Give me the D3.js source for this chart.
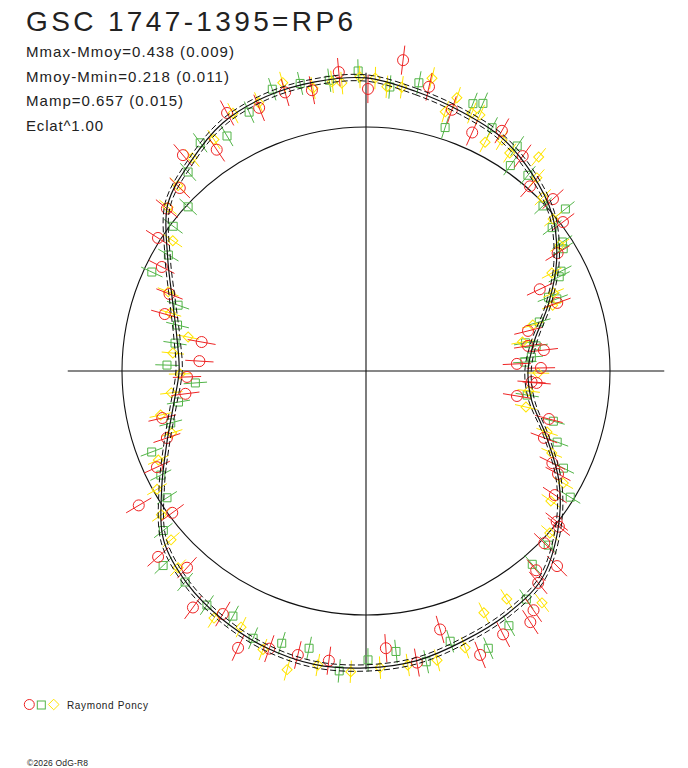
<!DOCTYPE html>
<html><head><meta charset="utf-8">
<script src="https://cdn.jsdelivr.net/npm/d3@7"></script>
<style>body{margin:0;background:#fff} svg{display:block}</style>
</head><body>
<svg id="chart" width="688" height="768"></svg>
<script>
// ---------- data ----------
const title = "GSC 1747-1395=RP6";
const statLines = ["Mmax-Mmoy=0.438 (0.009)", "Mmoy-Mmin=0.218 (0.011)", "Mamp=0.657 (0.015)", "Eclat^1.00"];
const mMaxMoy = 0.438;
const mMoyMin = 0.218;
const fitSigma = 0.013;
const observer = "Raymond Poncy";
const copyright = "\u00a92026 OdG-R8";

// fitted curve: rotational phase (deg) and relative flux
const curvePhase = [0,10,20,30,40,50,60,70,80,90,100,110,120,130,140,150,160,170,180,190,200,210,220,230,240,250,260,270,280,290,300,310,320,330,340,350];
const curveFlux  = [1.201,1.164,1.133,1.107,1.057,0.996,0.902,0.795,0.700,0.664,0.689,0.787,0.914,1.025,1.117,1.152,1.176,1.205,1.217,1.221,1.205,1.176,1.139,1.082,0.967,0.869,0.801,0.766,0.787,0.844,0.939,1.061,1.119,1.174,1.197,1.203];

// observations: [phase deg, relative flux, error]
const redPts = [
[343.8,1.189,0.058],[349.1,1.172,0.058],[354.8,1.230,0.058],[0.4,1.156,0.058],[6.8,1.283,0.060],[12.5,1.193,0.058],
[18.2,1.127,0.058],[24.0,1.070,0.058],[29.5,1.131,0.058],[36.1,1.090,0.058],[41.6,1.012,0.058],[47.4,1.041,0.058],
[52.9,1.012,0.058],[58.4,0.922,0.058],[64.8,0.787,0.058],[70.4,0.832,0.058],[76.1,0.684,0.058],[81.2,0.672,0.058],
[83.3,0.734,0.058],[87.3,0.619,0.058],[89.0,0.717,0.058],[93.8,0.680,0.058],[94.0,0.701,0.058],[99.4,0.627,0.058],
[104.7,0.775,0.058],[110.6,0.779,0.058],[116.3,0.852,0.058],[118.2,0.893,0.058],[123.3,0.926,0.058],[128.3,0.996,0.058],
[128.9,1.016,0.058],[134.0,1.016,0.058],[135.6,1.119,0.058],[139.5,1.074,0.058],[140.9,1.119,0.058],[145.0,1.197,0.058],
[146.8,1.230,0.058],[152.5,1.217,0.058],[158.1,1.254,0.058],[164.0,1.102,0.058],[170.1,1.213,0.058],[175.9,1.139,0.058],
[187.3,1.197,0.058],[193.5,1.197,0.058],[199.2,1.205,0.058],[204.8,1.250,0.058],[210.5,1.156,0.058],[216.2,1.201,0.058],
[222.3,1.090,0.058],[228.2,1.143,0.058],[233.8,0.984,0.058],[239.4,1.082,0.060],[245.3,0.943,0.058],[251.4,0.861,0.058],
[257.0,0.857,0.058],[262.8,0.746,0.058],[268.1,0.734,0.058],[273.4,0.684,0.058],[280.0,0.684,0.058],[285.8,0.857,0.058],
[291.4,0.865,0.058],[297.0,0.939,0.058],[302.6,1.012,0.058],[309.2,1.053,0.058],[314.5,1.070,0.058],[319.7,1.160,0.058],
[326.0,1.094,0.058],[331.7,1.201,0.058],[337.9,1.164,0.058]
];
const greenPts = [
[347.1,1.209,0.048],[352.8,1.201,0.048],[358.5,1.230,0.048],[4.8,1.168,0.048],[10.4,1.201,0.048],[18.0,1.049,0.048],
[21.8,1.180,0.048],[23.6,1.197,0.048],[27.4,1.123,0.048],[33.9,1.111,0.048],[35.1,1.029,0.048],[39.6,1.041,0.048],
[47.0,0.992,0.048],[50.9,1.053,0.048],[52.4,0.963,0.048],[56.7,0.963,0.048],[58.2,0.951,0.048],[62.9,0.898,0.048],
[64.0,0.881,0.048],[68.0,0.807,0.048],[69.3,0.836,0.048],[74.2,0.738,0.048],[80.0,0.664,0.048],[81.6,0.705,0.048],
[85.2,0.680,0.048],[86.8,0.652,0.048],[98.5,0.668,0.048],[105.0,0.795,0.048],[110.4,0.836,0.048],[116.2,0.902,0.048],
[121.7,0.984,0.048],[133.7,1.033,0.048],[139.3,1.045,0.048],[144.9,1.143,0.048],[150.7,1.197,0.048],[156.2,1.242,0.048],
[162.7,1.160,0.048],[168.3,1.217,0.048],[173.9,1.156,0.048],[179.6,1.184,0.048],[185.1,1.234,0.048],[191.6,1.160,0.048],
[197.2,1.168,0.048],[202.9,1.189,0.048],[208.5,1.143,0.048],[214.2,1.160,0.048],[220.6,1.139,0.048],[226.2,1.152,0.048],
[231.8,1.057,0.048],[237.5,0.967,0.048],[243.1,0.943,0.048],[249.3,0.939,0.048],[255.1,0.828,0.048],[260.6,0.779,0.048],
[266.0,0.701,0.048],[271.7,0.816,0.048],[278.3,0.791,0.048],[283.7,0.795,0.048],[289.3,0.816,0.048],[294.8,0.967,0.048],
[300.4,0.939,0.048],[306.9,0.988,0.048],[312.7,0.992,0.048],[318.2,1.094,0.048],[324.0,1.156,0.048],[329.4,1.119,0.048],
[335.7,1.164,0.048],[341.6,1.217,0.048]
];
const yellowPts = [
[343.9,1.230,0.046],[349.4,1.180,0.046],[353.3,1.193,0.046],[355.2,1.184,0.046],[358.8,1.205,0.046],[1.8,1.201,0.046],
[4.2,1.168,0.046],[7.2,1.172,0.046],[12.7,1.230,0.046],[17.0,1.111,0.046],[18.4,1.180,0.046],[22.3,1.143,0.046],
[24.0,1.148,0.046],[27.5,1.057,0.046],[30.5,1.098,0.046],[33.4,1.070,0.046],[38.9,1.127,0.046],[41.5,1.057,0.046],
[45.5,1.016,0.046],[50.9,0.988,0.046],[57.0,0.947,0.046],[62.2,0.861,0.046],[67.4,0.832,0.046],[70.6,0.811,0.046],
[74.6,0.709,0.046],[79.5,0.652,0.046],[90.7,0.705,0.046],[97.0,0.672,0.046],[102.7,0.672,0.046],[108.6,0.783,0.046],
[113.8,0.832,0.046],[119.6,0.930,0.046],[125.1,0.926,0.046],[131.4,1.004,0.046],[142.8,1.193,0.046],[148.3,1.098,0.046],
[154.0,1.102,0.046],[160.3,1.205,0.046],[166.2,1.221,0.046],[171.9,1.217,0.046],[177.3,1.217,0.046],[182.9,1.234,0.046],
[189.3,1.221,0.046],[194.8,1.266,0.046],[200.3,1.217,0.046],[206.0,1.168,0.046],[211.6,1.189,0.046],[223.7,1.115,0.046],
[229.1,1.057,0.046],[234.9,1.025,0.046],[240.5,0.984,0.046],[246.8,0.926,0.046],[252.3,0.836,0.046],[257.9,0.861,0.046],
[263.6,0.803,0.046],[269.1,0.762,0.046],[275.3,0.795,0.046],[280.8,0.742,0.046],[286.5,0.836,0.046],[291.8,0.873,0.046],
[304.0,0.955,0.046],[309.6,1.053,0.046],[314.6,1.082,0.046],[320.8,1.127,0.046],[326.7,1.135,0.046],[332.7,1.189,0.046],
[338.2,1.184,0.046]
];

// ---------- layout ----------
const svg = d3.select("#chart");
const cx = 366, cy = 371;
const rScale = d3.scaleLinear().domain([0, 1]).range([0, 244]);
const aScale = d3.scaleLinear().domain([0, 360]).range([0, 2 * Math.PI]);
const fluxMax = Math.pow(10, 0.4 * mMoyMin);
const axisR = rScale(fluxMax);
const font = "'Liberation Sans', Arial, sans-serif";
const colors = { red: "#ee2424", green: "#52b447", yellow: "#ffe400" };

const g = svg.append("g").attr("transform", `translate(${cx},${cy})`);

// reference circle (mean magnitude)
g.append("circle").attr("r", rScale(1)).attr("fill", "none").attr("stroke", "#111").attr("stroke-width", 1.1);

// axes
g.append("line").attr("x1", -axisR).attr("x2", axisR).attr("y1", 0).attr("y2", 0).attr("stroke", "#111").attr("stroke-width", 1.1);
g.append("line").attr("x1", 0).attr("x2", 0).attr("y1", -axisR).attr("y2", axisR).attr("stroke", "#111").attr("stroke-width", 1.1);

const px = (ph, f) => rScale(f) * Math.sin(aScale(ph));
const py = (ph, f) => -rScale(f) * Math.cos(aScale(ph));

// observations
function drawSeries(pts, color, shape) {
  const sg = g.append("g").attr("fill", "none").attr("stroke", color).attr("stroke-width", 1);
  sg.selectAll("line").data(pts).join("line")
    .attr("x1", d => px(d[0], d[1] - d[2])).attr("y1", d => py(d[0], d[1] - d[2]))
    .attr("x2", d => px(d[0], d[1] + d[2])).attr("y2", d => py(d[0], d[1] + d[2]));
  const sym = d3.symbol().type(shape.type).size(shape.size);
  sg.selectAll("path").data(pts).join("path")
    .attr("d", sym)
    .attr("transform", d => `translate(${px(d[0], d[1])},${py(d[0], d[1])})${shape.rot ? " rotate(45)" : ""}`);
}
const circleShape = { type: d3.symbolCircle, size: Math.PI * 5.5 * 5.5 };
const squareShape = { type: d3.symbolSquare, size: 64 };
const diamondShape = { type: d3.symbolSquare, size: 50, rot: true };
drawSeries(greenPts, colors.green, squareShape);
drawSeries(yellowPts, colors.yellow, diamondShape);
drawSeries(redPts, colors.red, circleShape);

// fitted curve with +/- band
const curveData = curvePhase.map((p, i) => [p, curveFlux[i]]);
const radial = off => d3.lineRadial()
  .angle(d => aScale(d[0]))
  .radius(d => rScale(d[1] + off))
  .curve(d3.curveCatmullRomClosed.alpha(0.5));
g.append("path").attr("d", radial(fitSigma)(curveData)).attr("fill", "none").attr("stroke", "#111").attr("stroke-width", 1).attr("stroke-dasharray", "6,3");
g.append("path").attr("d", radial(-fitSigma)(curveData)).attr("fill", "none").attr("stroke", "#111").attr("stroke-width", 1).attr("stroke-dasharray", "6,3");
g.append("path").attr("d", radial(0)(curveData)).attr("fill", "none").attr("stroke", "#111").attr("stroke-width", 1.2);

// ---------- texts ----------
svg.append("text").attr("x", 26).attr("y", 31).attr("font-family", font).attr("font-size", 28)
  .attr("fill", "#222").attr("textLength", 327).attr("lengthAdjust", "spacing").text(title);
const statLens = [208, 203, 157, 77];
statLines.forEach((s, i) => {
  svg.append("text").attr("x", 26).attr("y", 57 + i * 24.7).attr("font-family", font).attr("font-size", 15)
    .attr("fill", "#222").attr("textLength", statLens[i]).attr("lengthAdjust", "spacing").text(s);
});

// legend
const lg = svg.append("g").attr("fill", "none").attr("stroke-width", 1);
lg.append("circle").attr("cx", 29.3).attr("cy", 704.5).attr("r", 5).attr("stroke", colors.red);
lg.append("rect").attr("x", 37.3).attr("y", 701).attr("width", 8).attr("height", 8).attr("stroke", colors.green);
lg.append("path").attr("d", "M53.7,699.2L59,704.5L53.7,709.8L48.4,704.5Z").attr("stroke", colors.yellow);
svg.append("text").attr("x", 67).attr("y", 709).attr("font-family", font).attr("font-size", 10)
  .attr("fill", "#222").attr("textLength", 81).attr("lengthAdjust", "spacing").text(observer);

svg.append("text").attr("x", 27).attr("y", 766).attr("font-family", font).attr("font-size", 8.5)
  .attr("fill", "#222").attr("textLength", 61).attr("lengthAdjust", "spacing").text(copyright);
</script>
</body></html>
